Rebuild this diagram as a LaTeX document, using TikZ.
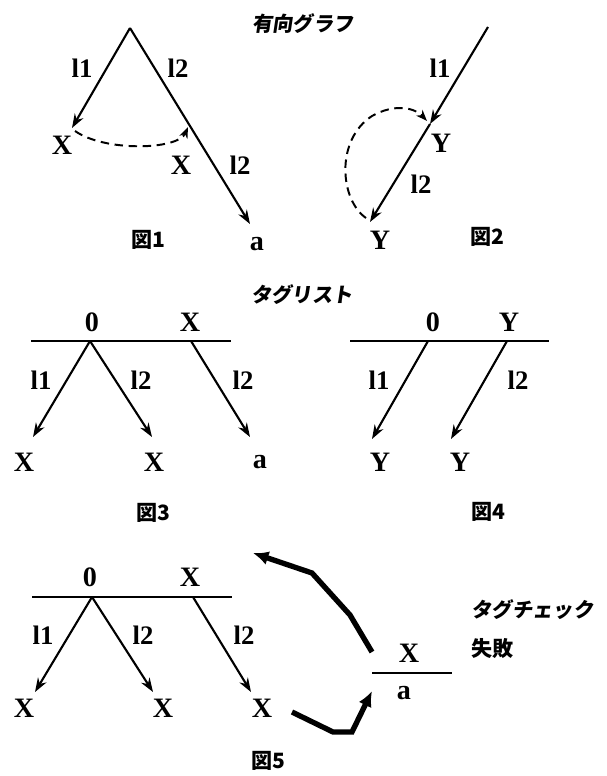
\documentclass[tikz,border=0pt]{standalone}
\usepackage{fontspec}
\setmainfont{Liberation Serif}
\newfontfamily\jpfont{Noto Sans CJK JP}
\newfontfamily\jpslant{Noto Sans CJK JP}[FakeSlant=0.15]
\usetikzlibrary{arrows.meta}

\tikzset{
  lbl/.style={inner sep=0pt, font=\fontsize{20}{22}\selectfont\bfseries},
  tag/.style={inner sep=0pt, font=\fontsize{19}{21}\selectfont\bfseries},
  fig/.style={inner sep=0pt, font=\fontsize{15}{17}\selectfont\jpfont\bfseries},
  head/.style={inner sep=0pt, font=\fontsize{14.5}{16}\selectfont\jpslant\bfseries},
  edge/.style={line width=1.5pt, -{Stealth[length=10pt,width=7pt]}},
  link/.style={line width=1.4pt, dashed, dash pattern=on 6pt off 4pt, -{Stealth[length=8pt,width=6pt]}},
  bar/.style={line width=1.5pt},
  bigarrow/.style={line width=3.8pt, line join=miter, -{Latex[length=11pt,width=10pt]}}
}

\begin{document}
\begin{tikzpicture}[x=0.025cm, y=-0.025cm]

    \useasboundingbox (0,0) rectangle (606,776);

    % titles
    \node[head] (t1) at (303,24) {有向グラフ};
    \node[head] (t2) at (302,295) {タグリスト};

    % fig 1
    \coordinate (r1) at (130,28);
    \coordinate (x1) at (72,128);
    \coordinate (m1) at (189,125);
    \coordinate (a1) at (250,224);
    \coordinate (d1s) at (75,131);
    \coordinate (d1e) at (188,127);
    \draw[edge] (r1) -- (x1);
    \draw[edge] (r1) -- (a1);
    \draw[link] (d1s) .. controls (105,152) and (178,150) .. (d1e);
    \node[tag] (l11) at (82,68) {l1};
    \node[tag] (l12) at (178,68) {l2};
    \node[tag] (l13) at (240,165) {l2};
    \node[lbl] (x1a) at (62,145) {X};
    \node[lbl] (x1b) at (181,165) {X};
    \node[lbl] (a1l) at (257,244) {a};
    \node[fig] (f1) at (148,240) {図1};

    % fig 2
    \coordinate (r2) at (488,27);
    \coordinate (y2) at (430,124);
    \coordinate (y2b) at (370,222);
    \coordinate (d2s) at (366,218);
    \coordinate (d2e) at (427,121);
    \draw[edge] (r2) -- (y2);
    \draw[edge] (y2) -- (y2b);
    \draw[link] (d2s) .. controls (340,200) and (335,140) .. (372,116)
                      .. controls (395,103) and (415,108) .. (d2e);
    \node[tag] (l21) at (440,68) {l1};
    \node[tag] (l22) at (421,184) {l2};
    \node[lbl] (y2a) at (441,143) {Y};
    \node[lbl] (y2c) at (380,240) {Y};
    \node[fig] (f2) at (487,237) {図2};

    % fig 3
    \coordinate (b3l) at (31,341);
    \coordinate (b3r) at (231,341);
    \coordinate (p30) at (90,341);
    \coordinate (p3x) at (191,341);
    \draw[bar] (b3l) -- (b3r);
    \draw[edge] (p30) -- (33,437);
    \draw[edge] (p30) -- (152,437);
    \draw[edge] (p3x) -- (250,437);
    \node[lbl] (h30) at (92,322) {0};
    \node[lbl] (h3x) at (190,322) {X};
    \node[tag] (l31) at (41,380) {l1};
    \node[tag] (l32) at (141,380) {l2};
    \node[tag] (l33) at (243,380) {l2};
    \node[lbl] (x3a) at (24,462) {X};
    \node[lbl] (x3b) at (154,462) {X};
    \node[lbl] (a3) at (260,462) {a};
    \node[fig] (f3) at (153,513) {図3};

    % fig 4
    \coordinate (b4l) at (350,341);
    \coordinate (b4r) at (549,341);
    \coordinate (p40) at (428,341);
    \coordinate (p4y) at (507,341);
    \draw[bar] (b4l) -- (b4r);
    \draw[edge] (p40) -- (372,439);
    \draw[edge] (p4y) -- (451,439);
    \node[lbl] (h40) at (433,322) {0};
    \node[lbl] (h4y) at (509,322) {Y};
    \node[tag] (l41) at (379,380) {l1};
    \node[tag] (l42) at (518,380) {l2};
    \node[lbl] (y4a) at (380,462) {Y};
    \node[lbl] (y4b) at (460,462) {Y};
    \node[fig] (f4) at (488,512) {図4};

    % fig 5
    \coordinate (b5l) at (32,597);
    \coordinate (b5r) at (232,597);
    \coordinate (p50) at (92,597);
    \coordinate (p5x) at (193,597);
    \draw[bar] (b5l) -- (b5r);
    \draw[edge] (p50) -- (35,692);
    \draw[edge] (p50) -- (153,692);
    \draw[edge] (p5x) -- (251,692);
    \node[lbl] (h50) at (90,577) {0};
    \node[lbl] (h5x) at (190,577) {X};
    \node[tag] (l51) at (43,635) {l1};
    \node[tag] (l52) at (143,635) {l2};
    \node[tag] (l53) at (244,635) {l2};
    \node[lbl] (x5a) at (24,708) {X};
    \node[lbl] (x5b) at (163,708) {X};
    \node[lbl] (x5c) at (262,708) {X};
    \node[fig] (f5) at (268,761) {図5};

    % tag check
    \coordinate (c5l) at (372,673);
    \coordinate (c5r) at (452,673);
    \draw[bar] (c5l) -- (c5r);
    \node[lbl] (cx) at (409,653) {X};
    \node[lbl] (ca) at (404,693) {a};
    \node[head, anchor=west] (ck) at (471,610) {タグチェック};
    \node[fig, anchor=west] (cf) at (471,648) {失敗};

    % thick arrows
    \coordinate (u0) at (372,652);
    \coordinate (u1) at (253,553);
    \coordinate (w0) at (292,712);
    \coordinate (w1) at (372,691);
    \draw[bigarrow] (u0) -- (350,615) -- (312,573) -- (u1);
    \draw[bigarrow] (w0) -- (333,732) -- (352,732) -- (w1);

\end{tikzpicture}
\end{document}
